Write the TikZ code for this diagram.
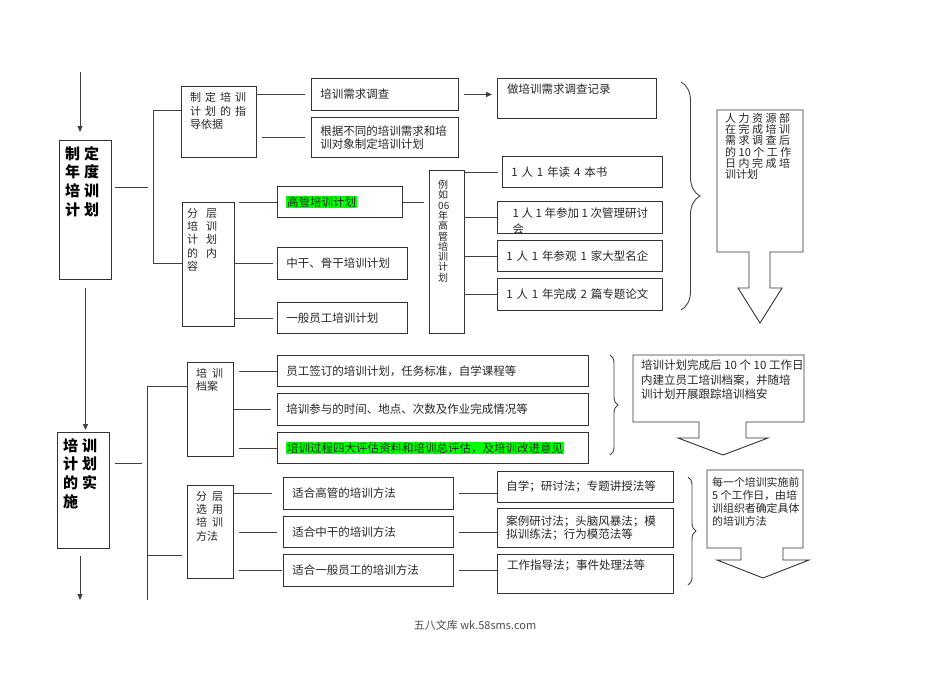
\documentclass[tikz,border=0pt]{standalone}
\usepackage{fontspec}
\setmainfont{Noto Sans CJK SC}
\usepackage{tikz}
\usetikzlibrary{positioning, arrows.meta, decorations.pathreplacing}
\usepackage{xcolor}

\definecolor{hlgreen}{HTML}{00FF00}
\newcommand{\hl}[1]{{\setlength{\fboxsep}{0.6pt}\colorbox{hlgreen}{#1}}}
\newcommand{\gap}{\hspace{4pt}}

\begin{document}
\begin{tikzpicture}[
    x=1pt, y=-1pt,
    box/.style={draw=black!80, line width=0.9pt, anchor=north west, align=left,
        inner xsep=9pt, inner ysep=0pt, text=black!85, font=\fontsize{11.5}{13}\selectfont},
    toptext/.style={anchor=north west, align=left, inner xsep=9pt, inner ysep=6pt,
        text=black!85, font=\fontsize{11.5}{13.4}\selectfont},
    mainlbl/.style={toptext, inner xsep=6pt, text=black, font=\fontsize{15}{18.7}\selectfont\bfseries},
    note/.style={anchor=north west, align=left, inner sep=0pt, text=black!85},
    link/.style={draw=black!75, line width=0.9pt},
    arr/.style={link, -{Triangle[length=6pt, width=5pt]}},
    curly/.style={link, decorate, decoration={brace, amplitude=#1}},
    blockarrow/.style={draw=black!80, line width=0.9pt, fill=white}
]
    \useasboundingbox (0,0) rectangle (950,672);

    % Annual plan and its two branches:
    \node[box, minimum width=52pt, minimum height=139pt,
        label={[mainlbl]north west:{制\gap 定\\年\gap 度\\培\gap 训\\计\gap 划}}] (plan) at (59,140) {};
    \node[box, minimum width=75pt, minimum height=71pt,
        label={[toptext, font=\fontsize{11}{13.5}\selectfont]north west:{制\gap 定\gap 培\gap 训\\计\gap 划\gap 的\gap 指\\导依据}}] (basis) at (181,86) {};
    \node[box, minimum width=52pt, minimum height=124pt,
        label={[toptext, inner xsep=5pt, font=\fontsize{11}{13.3}\selectfont]north west:{分\hspace{8pt}层\\培\hspace{8pt}训\\计\hspace{8pt}划\\的\hspace{8pt}内\\容}}] (layers) at (182,202) {};

    \node[box, text width=129pt, minimum height=32pt] (survey) at (311,78) {培训需求调查};
    \node[box, minimum width=159pt, minimum height=40pt,
        label={[toptext, inner xsep=10pt]north west:做培训需求调查记录}] (record) at (497,78) {};
    \node[box, text width=129pt, minimum height=40pt] (tailor) at (311,117) {根据不同的培训需求和培\\训对象制定培训计划};

    \node[box, text width=107pt, minimum height=31pt] (senior) at (277,186) {\hl{高管培训计划}};
    \node[box, text width=112pt, minimum height=32pt] (middle) at (277,247) {中干、骨干培训计划};
    \node[box, text width=112pt, minimum height=31pt] (staff) at (277,302) {一般员工培训计划};
    \node[box, minimum width=35pt, minimum height=163pt,
        label={[toptext, inner ysep=10pt, font=\fontsize{10}{10.3}\selectfont]north west:{例\\如\\06\\年\\高\\管\\培\\训\\计\\划}}] (example) at (429,170) {};

    \node[box, text width=142pt, minimum height=31pt] (books) at (502,156) {1 人 1 年读 4 本书};
    \node[box, minimum width=165pt, minimum height=32pt,
        path picture={\node[toptext, inner xsep=8pt, font=\fontsize{11.5}{16}\selectfont] (seminartext)
            at (path picture bounding box.north west) {1 人 1 年参加 1 次管理研讨\\会};}] (seminar) at (497,201) {};
    \node[box, text width=147pt, minimum height=31pt] (visit) at (497,240) {1 人 1 年参观 1 家大型名企};
    \node[box, text width=147pt, minimum height=32pt] (thesis) at (497,278) {1 人 1 年完成 2 篇专题论文};

    % Carrying out the plan:
    \node[box, minimum width=52pt, minimum height=116pt,
        label={[mainlbl]north west:{培\gap 训\\计\gap 划\\的\gap 实\\施}}] (execute) at (57,432) {};
    \node[box, minimum width=46pt, minimum height=94pt,
        label={[toptext, font=\fontsize{11}{13}\selectfont]north west:{培\hspace{5pt}训\\档案}}] (archive) at (187,362) {};
    \node[box, minimum width=46pt, minimum height=93pt,
        label={[toptext, font=\fontsize{11}{13.3}\selectfont]north west:{分\hspace{5pt}层\\选\hspace{5pt}用\\培\hspace{5pt}训\\方法}}] (method) at (187,485) {};

    \node[box, text width=293pt, minimum height=31pt] (signed) at (277,355) {员工签订的培训计划，任务标准，自学课程等};
    \node[box, text width=293pt, minimum height=32pt] (attend) at (277,393) {培训参与的时间、地点、次数及作业完成情况等};
    \node[box, text width=293pt, minimum height=31pt] (assess) at (277,432) {\hl{培训过程四大评估资料和培训总评估，及培训改进意见}};

    \node[box, text width=152pt, minimum height=32pt] (fitsenior) at (283,477) {适合高管的培训方法};
    \node[box, text width=152pt, minimum height=31pt] (fitmiddle) at (283,516) {适合中干的培训方法};
    \node[box, text width=152pt, minimum height=32pt] (fitstaff) at (283,554) {适合一般员工的培训方法};
    \node[box, text width=158pt, minimum height=31pt] (selfstudy) at (497,471) {自学；研讨法；专题讲授法等};
    \node[box, text width=158pt, minimum height=39pt] (casestudy) at (497,508) {案例研讨法；头脑风暴法；模\\拟训练法；行为模范法等};
    \node[box, minimum width=176pt, minimum height=39pt,
        label={[toptext, inner xsep=10pt]north west:工作指导法；事件处理法等}] (coaching) at (497,554) {};

    % Main flow arrows
    \coordinate (in1) at (80,72);
    \coordinate (out2) at (80,600);
    \draw[arr, shorten >=8pt] (in1) -- (in1 |- plan.north);
    \draw[arr, shorten <=8pt, shorten >=2pt] (plan.south) -- (plan.south |- execute.north);
    \draw[arr, shorten <=7pt] (out2 |- execute.south) -- (out2);

    % Branches of the first block
    \coordinate (j1a) at (153,110);
    \coordinate (j1) at (153,187);
    \coordinate (j1b) at (153,263);
    \draw[link] (basis.west |- j1a) -- (j1a) -- (j1b) -- (layers.west |- j1b);
    \draw[link, shorten <=3pt, shorten >=5pt] (plan.east |- j1) -- (j1);
    \draw[link, shorten >=6pt] (basis.east |- survey.west) -- (survey.west);
    \draw[link, shorten <=5pt, shorten >=6pt] (basis.east |- tailor.west) -- (tailor.west);
    \draw[arr, shorten <=5pt, shorten >=5pt] (survey.east) -- (survey.east -| record.west);
    \draw[link, shorten <=4pt] (layers.east |- senior.west) -- (senior.west);
    \draw[link, shorten >=4pt] (layers.east |- middle.west) -- (middle.west);
    \draw[link, shorten >=4pt] (layers.east |- staff.west) -- (staff.west);
    \draw[link, shorten >=5pt] (senior.east) -- (senior.east -| example.west);
    \draw[link, shorten >=4pt] (example.east |- books.west) -- (books.west);
    \draw[link] (example.east |- seminar.west) -- (seminar.west);
    \draw[link] (example.east |- visit.west) -- (visit.west);
    \draw[link] (example.east |- thesis.west) -- (thesis.west);

    % Branches of the second block
    \coordinate (j2a) at (147,386);
    \coordinate (j2) at (147,463);
    \coordinate (j2b) at (147,555);
    \coordinate (j2c) at (147,600);
    \draw[link] (archive.west |- j2a) -- (j2a) -- (j2c);
    \draw[link, shorten >=5pt] (j2b) -- (method.west |- j2b);
    \draw[link, shorten <=5pt, shorten >=5pt] (execute.east |- j2) -- (j2);
    \draw[link, shorten <=5pt] (archive.east |- signed.west) -- (signed.west);
    \draw[link, shorten >=6pt] (archive.east |- attend.west) -- (attend.west);
    \draw[link, shorten <=5pt] (archive.east |- assess.west) -- (assess.west);
    \draw[link, shorten >=11pt] (method.east |- fitsenior.west) -- (fitsenior.west);
    \draw[link, shorten <=5pt, shorten >=6pt] (method.east |- fitmiddle.west) -- (fitmiddle.west);
    \draw[link, shorten <=5pt, shorten >=1pt] (method.east |- fitstaff.west) -- (fitstaff.west);
    \draw[link, shorten <=5pt] (fitsenior.east) -- (fitsenior.east -| selfstudy.west);
    \draw[link, shorten <=5pt] (fitmiddle.east) -- (fitmiddle.east -| casestudy.west);
    \draw[link, shorten <=5pt] (fitstaff.east) -- (fitstaff.east -| coaching.west);

    % Braces and notes
    \draw[curly=19pt] (681,82) -- (681,310);
    \draw[curly=8pt] (610,355) -- (610,455);
    \draw[curly=8pt] (688,477) -- (688,585);

    \draw[blockarrow] (717,110) -- (803,110) -- (803,252) -- (770,252) -- (770,288) -- (782,288)
        -- (760,323) -- (738,288) -- (749,288) -- (749,252) -- (717,252) -- cycle;
    \node[note, font=\fontsize{11}{11.2}\selectfont] (hrnote) at (725,113)
        {人 力 资 源 部\\在 完 成 培 训\\需 求 调 查 后\\的 10 个 工 作\\日 内 完 成 培\\训计划};

    \draw[blockarrow] (633,355) -- (804,355) -- (804,422) -- (746,422) -- (746,438) -- (768,438)
        -- (723,455) -- (678,438) -- (699,438) -- (699,422) -- (633,422) -- cycle;
    \node[note, font=\fontsize{11.5}{14.5}\selectfont] (filenote) at (641,360)
        {培训计划完成后 10 个 10 工作日\\内建立员工培训档案，并随培\\训计划开展跟踪培训档安};

    \draw[blockarrow] (707,470) -- (803,470) -- (803,548) -- (783,548) -- (783,560) -- (809,560)
        -- (763,578) -- (717,560) -- (741,560) -- (741,548) -- (707,548) -- cycle;
    \node[note, font=\fontsize{10.9}{12.9}\selectfont] (methodnote) at (712,477)
        {每一个培训实施前\\5 个工作日，由培\\训组织者确定具体\\的培训方法};

    \node[text=black!70, font=\fontsize{11}{13}\selectfont] (footer) at (475,625) {五八文库 wk.58sms.com};
\end{tikzpicture}
\end{document}
